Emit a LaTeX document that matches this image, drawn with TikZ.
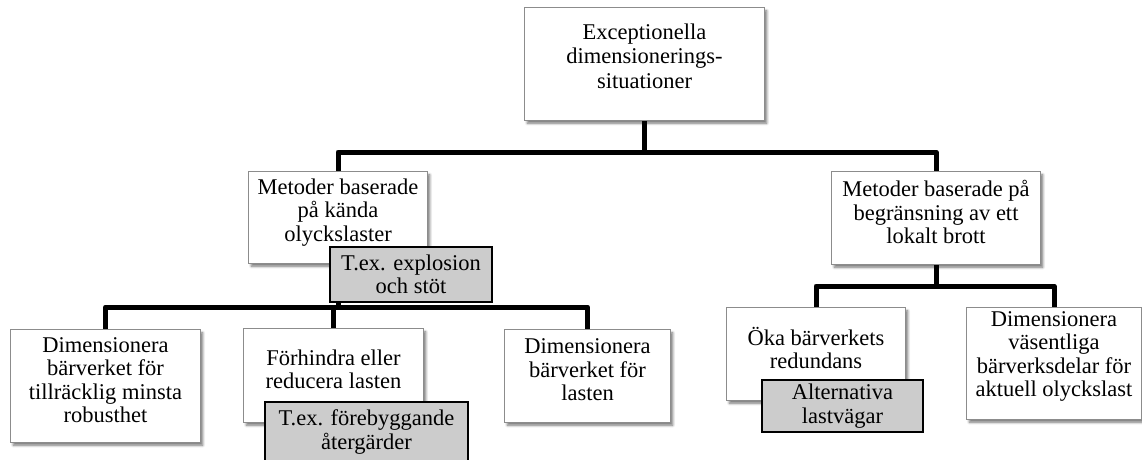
\documentclass[tikz,border=0pt]{standalone}
\usepackage{fontspec}
\setmainfont{Liberation Serif}
\usetikzlibrary{shadows.blur}
\begin{document}
\begin{tikzpicture}[x=1pt,y=-1pt,
  wbox/.style={draw=black!45, line width=1.2pt, fill=white,
    blur shadow={shadow xshift=2.5pt, shadow yshift=-3pt, shadow blur radius=2.5pt,
      shadow blur steps=6, shadow opacity=55}},
  gbox/.style={draw=black, line width=1.5pt, fill=black!20, align=center,
    inner sep=0pt, font=\fontsize{22.5}{23.5}\selectfont},
  txt/.style={align=center, inner sep=0pt, font=\fontsize{22.5}{23.5}\selectfont},
  conn/.style={line width=5pt, line join=round}]
\useasboundingbox (0,0) rectangle (1142,460);
\clip (0,0) rectangle (1142,460);

% bar heights of the three branchings
\coordinate (barT) at (0,152);
\coordinate (barL) at (0,307);
\coordinate (barR) at (0,286);

% box outlines (placed first so the connectors can refer to them)
\path
  (644.5,64)  node[minimum width=239pt, minimum height=112pt] (top)  {}
  (338,217.5) node[minimum width=178pt, minimum height=91pt]  (midL) {}
  (936,218)   node[minimum width=208pt, minimum height=92pt]  (midR) {}
  (105.5,386) node[minimum width=189pt, minimum height=112pt] (b1)   {}
  (333.5,375.5) node[minimum width=179pt, minimum height=93pt] (b2)  {}
  (587.5,376) node[minimum width=165pt, minimum height=92pt]  (b3)   {}
  (816,354)   node[minimum width=178pt, minimum height=92pt]  (b4)   {}
  (1054,363.5) node[minimum width=174pt, minimum height=111pt] (b5)  {};

% connectors
\draw[conn] (top.south) -- (top.south |- barT);
\draw[conn] (midL.north) |- (barT -| midR.north) -- (midR.north);
\draw[conn] (midL.south) -- (midL.south |- barL);
\draw[conn] (b1.north) |- (barL -| b3.north) -- (b3.north);
\draw[conn] (b2.north) -- (b2.north |- barL);
\draw[conn] (midR.south) -- (midR.south |- barR);
\draw[conn] (b4.north) |- (barR -| b5.north) -- (b5.north);

% white boxes
\foreach \n in {top,midL,midR,b1,b2,b3,b4,b5}{
  \path[wbox] (\n.south west) rectangle (\n.north east);
}

% texts of the white boxes
\node[txt, font=\fontsize{22.5}{24.5}\selectfont] (topT) at ([yshift=8pt]top.center) {Exceptionella\\dimensionerings-\\situationer};
\node[txt] (midLT) at ([yshift=5pt]midL.center) {Metoder baserade\\på kända\\olyckslaster};
\node[txt] (midRT) at ([yshift=6pt]midR.center) {Metoder baserade på\\begränsning av ett\\lokalt brott};
\node[txt] (b1T)   at ([yshift=6pt]b1.center)   {Dimensionera\\bärverket för\\tillräcklig minsta\\robusthet};
\node[txt] (b2T)   at ([yshift=6pt]b2.center)   {Förhindra eller\\reducera lasten};
\node[txt] (b3T)   at ([yshift=6pt]b3.center)   {Dimensionera\\bärverket för\\lasten};
\node[txt] (b4T)   at ([yshift=6pt]b4.center)   {Öka bärverkets\\redundans};
\node[txt] (b5T)   at ([yshift=7pt]b5.center)   {Dimensionera\\väsentliga\\bärverksdelar för\\aktuell olyckslast};

% grey example boxes
\node[gbox, minimum width=162pt, minimum height=55pt] (ex1) at (411,274.5) {T.ex. explosion\\och stöt};
\node[gbox, minimum width=203pt, minimum height=60pt] (ex2) at (366.5,432) {T.ex. förebyggande\\återgärder};
\node[gbox, minimum width=161pt, minimum height=52pt] (ex3) at (842.5,406) {Alternativa\\lastvägar};
\end{tikzpicture}
\end{document}
